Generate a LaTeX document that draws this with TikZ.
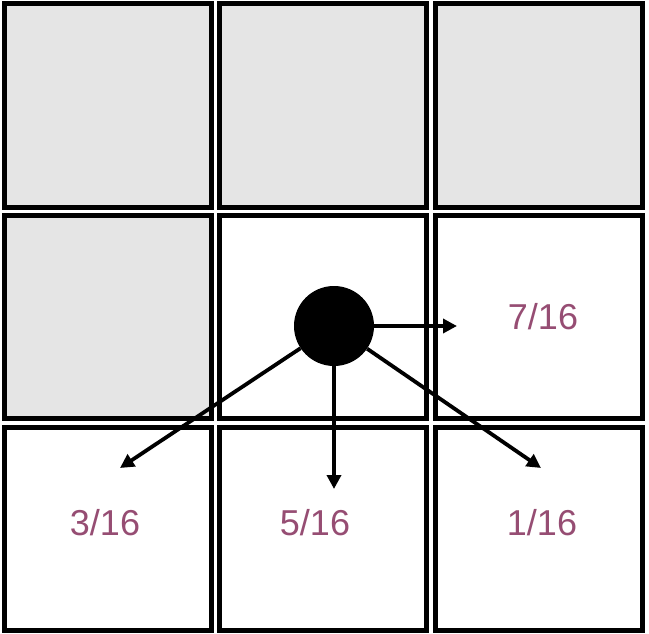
\documentclass[tikz,border=0pt]{standalone}
\usepackage{fontspec}
\setmainfont{Liberation Sans}
\usetikzlibrary{arrows.meta}
\definecolor{done}{HTML}{E5E5E5}
\definecolor{weight}{HTML}{964D73}
\tikzset{
  cell/.style={draw=black, line width=5pt, minimum width=207pt, minimum height=203pt, inner sep=0pt},
  donecell/.style={cell, fill=done},
  opencell/.style={cell, fill=white},
  share/.style={text=weight, font=\fontsize{36}{40}\selectfont},
  spread/.style={line width=3.8pt, -{Triangle[length=14pt, width=14pt]}}
}
\begin{document}
\begin{tikzpicture}[x=1pt, y=-1pt]
\useasboundingbox (0,0) rectangle (649,634);
%cells
\node[donecell] (c11) at (107.5,105.5) {};
\node[donecell] (c12) at (323,105.5) {};
\node[donecell] (c13) at (538.5,105.5) {};
\node[donecell] (c21) at (107.5,316.5) {};
\node[opencell] (c22) at (323,316.5) {};
\node[opencell] (c23) at (538.5,316.5) {};
\node[opencell] (c31) at (107.5,528.5) {};
\node[opencell] (c32) at (323,528.5) {};
\node[opencell] (c33) at (538.5,528.5) {};

%current pixel and its error shares
\node[circle, fill=black, minimum size=80pt, inner sep=0pt] (px) at (334,326) {};
\coordinate (toE) at (457,326);
\coordinate (toSW) at (120,468);
\coordinate (toS) at (334,489);
\coordinate (toSE) at (541,468);
\draw[spread] (px) -- (toE);
\draw[spread] (px) -- (toSW);
\draw[spread] (px) -- (toS);
\draw[spread] (px) -- (toSE);

\node[share] (w7) at (543,317) {7/16};
\node[share] (w3) at (105,523) {3/16};
\node[share] (w5) at (315,523) {5/16};
\node[share] (w1) at (542,523) {1/16};
\end{tikzpicture}
\end{document}
